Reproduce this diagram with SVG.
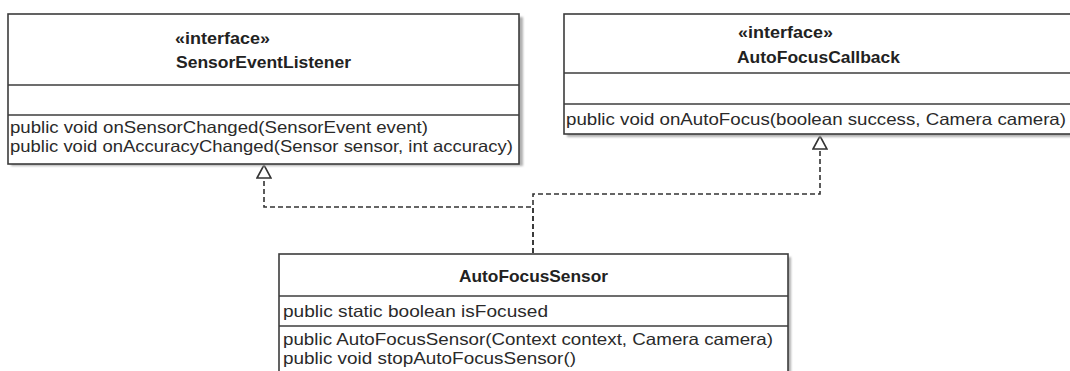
<svg xmlns="http://www.w3.org/2000/svg" width="1070" height="371" viewBox="0 0 1070 371">
  <style>
    .box { fill: #ffffff; stroke: #3c3c3c; stroke-width: 1.6; }
    .shadow { fill: #b0b0b0; filter: url(#soft); }
    .sep { stroke: #3c3c3c; stroke-width: 1.6; fill: none; }
    .title { font-family: "Liberation Sans", Arial, sans-serif; font-size: 16.5px; font-weight: bold; fill: #222; }
    .member { font-family: "Liberation Sans", Arial, sans-serif; font-size: 16.5px; fill: #2a2a2a; }
    .dep { fill: none; stroke: #333; stroke-width: 1.6; stroke-dasharray: 5 3; marker-end: url(#realize); }
  </style>
  <defs>
    <filter id="soft" x="-5%" y="-5%" width="110%" height="110%">
      <feGaussianBlur stdDeviation="1"/>
    </filter>
    <!-- hollow triangle for interface realization -->
    <marker id="realize" viewBox="0 0 15 16" markerWidth="15" markerHeight="16" refX="14" refY="8" orient="auto" markerUnits="userSpaceOnUse">
      <path d="M1,1 L14,8 L1,15 Z" fill="#ffffff" stroke="#333" stroke-width="1.6" stroke-linejoin="miter"/>
    </marker>
  </defs>

  <rect width="1070" height="371" fill="#ffffff"/>

  <!-- connectors -->
  <g id="connectors">
    <path class="dep" d="M533,253 V207 H264 V165"/>
    <path class="dep" d="M533,253 V194 H820 V136"/>
  </g>

  <!-- SensorEventListener interface -->
  <g id="node-sensor-event-listener">
    <rect class="shadow" x="11" y="17" width="512" height="149"/>
    <rect class="box" x="8" y="14" width="511" height="150"/>
    <line class="sep" x1="8" y1="85" x2="519" y2="85"/>
    <line class="sep" x1="8" y1="115" x2="519" y2="115"/>
    <text class="title" x="175" y="44" textLength="95" lengthAdjust="spacingAndGlyphs">«interface»</text>
    <text class="title" x="176" y="68" textLength="175" lengthAdjust="spacingAndGlyphs">SensorEventListener</text>
    <text class="member" x="10" y="133" textLength="418" lengthAdjust="spacingAndGlyphs">public void onSensorChanged(SensorEvent event)</text>
    <text class="member" x="10" y="152" textLength="503" lengthAdjust="spacingAndGlyphs">public void onAccuracyChanged(Sensor sensor, int accuracy)</text>
  </g>

  <!-- AutoFocusCallback interface -->
  <g id="node-autofocus-callback">
    <rect class="shadow" x="567" y="17" width="512" height="120"/>
    <rect class="box" x="564" y="14" width="512" height="120"/>
    <line class="sep" x1="564" y1="73" x2="1076" y2="73"/>
    <line class="sep" x1="564" y1="104" x2="1076" y2="104"/>
    <text class="title" x="738" y="38" textLength="95" lengthAdjust="spacingAndGlyphs">«interface»</text>
    <text class="title" x="737" y="63" textLength="163" lengthAdjust="spacingAndGlyphs">AutoFocusCallback</text>
    <text class="member" x="566" y="125" textLength="500" lengthAdjust="spacingAndGlyphs">public void onAutoFocus(boolean success, Camera camera)</text>
  </g>

  <!-- AutoFocusSensor class -->
  <g id="node-autofocus-sensor">
    <rect class="shadow" x="282" y="257" width="509" height="130"/>
    <rect class="box" x="279" y="254" width="509" height="130"/>
    <line class="sep" x1="279" y1="296" x2="788" y2="296"/>
    <line class="sep" x1="279" y1="326" x2="788" y2="326"/>
    <text class="title" x="459" y="282" textLength="149" lengthAdjust="spacingAndGlyphs">AutoFocusSensor</text>
    <text class="member" x="283" y="317" textLength="265" lengthAdjust="spacingAndGlyphs">public static boolean isFocused</text>
    <text class="member" x="283" y="345" textLength="490" lengthAdjust="spacingAndGlyphs">public AutoFocusSensor(Context context, Camera camera)</text>
    <text class="member" x="283" y="364" textLength="293" lengthAdjust="spacingAndGlyphs">public void stopAutoFocusSensor()</text>
  </g>
</svg>
